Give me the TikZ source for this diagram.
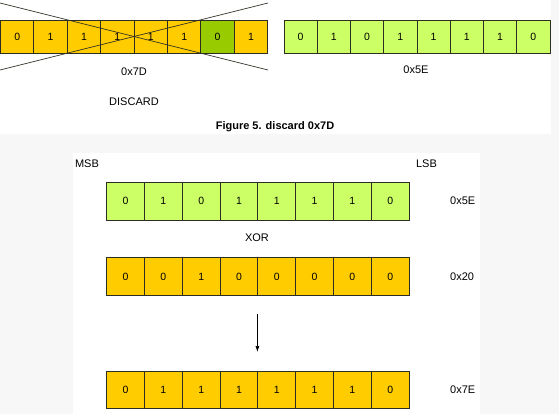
\documentclass[tikz,border=0pt]{standalone}
\usepackage{fontspec}
\setmainfont{Liberation Sans}
\usepackage{xcolor}
\usepackage{tikz}
\usetikzlibrary{math}
\usetikzlibrary{arrows.meta}
\definecolor{bitOrange}{RGB}{255,204,0}
\definecolor{bitLime}{RGB}{204,255,102}
\definecolor{bitGreen}{RGB}{153,204,0}
\definecolor{pageGray}{RGB}{247,247,247}
\definecolor{edgeColor}{RGB}{45,45,35}

\begin{document}
\begin{tikzpicture}[x=1pt,y=-1pt,
	bit/.style={draw=edgeColor,line width=0.9pt,inner sep=0pt,outer sep=0pt,font=\fontsize{10.5}{12}\selectfont},
	smallbit/.style={bit,minimum width=33.4pt,minimum height=33pt},
	bigbit/.style={bit,minimum width=37.8pt,minimum height=37.7pt},
	lbl/.style={inner sep=0pt,font=\fontsize{11}{13}\selectfont}]
\useasboundingbox (0,0) rectangle (559,414);
\fill[pageGray] (0,0) rectangle (559,414);
\fill[white] (0,0) rectangle (551,134);
\fill[white] (73,153) rectangle (480,414);
%
% discarded byte and its replacement
\foreach \b/\c [count=\i from 0] in {0/bitOrange,1/bitOrange,1/bitOrange,1/bitOrange,1/bitOrange,1/bitOrange,0/bitGreen,1/bitOrange} {
	\tikzmath{\xc = 0.5 + 33.4*\i + 16.7;}
	\node[smallbit,fill=\c] (d\i) at (\xc,36.5) {\b};
}
\foreach \b [count=\i from 0] in {0,1,0,1,1,1,1,0} {
	\tikzmath{\xc = 284 + 33.25*\i + 16.6;}
	\node[smallbit,minimum width=33.25pt,fill=bitLime] (r\i) at (\xc,36.5) {\b};
}
\draw[edgeColor,line width=0.7pt] (0,3) -- (268,70);
\draw[edgeColor,line width=0.7pt] (0,70) -- (268,3);
\node[lbl] (dval) at (134,72) {0x7D};
\node[lbl] (dword) at (134,102) {DISCARD};
\node[lbl] (rval) at (416,70) {0x5E};
\node[lbl,font=\fontsize{11}{13}\selectfont\bfseries] (cap) at (275,127) {Figure 5. discard 0x7D};
%
% xor with 0x20
\node[lbl] (msb) at (87,164) {MSB};
\node[lbl] (lsb) at (426.5,164) {LSB};
\foreach \b [count=\i from 0] in {0,1,0,1,1,1,1,0} {
	\tikzmath{\xc = 106.7 + 37.8*\i + 18.9;}
	\node[bigbit,fill=bitLime] (a\i) at (\xc,201.2) {\b};
}
\foreach \b [count=\i from 0] in {0,0,1,0,0,0,0,0} {
	\tikzmath{\xc = 106.7 + 37.8*\i + 18.9;}
	\node[bigbit,fill=bitOrange] (m\i) at (\xc,276.7) {\b};
}
\foreach \b [count=\i from 0] in {0,1,1,1,1,1,1,0} {
	\tikzmath{\xc = 106.7 + 37.8*\i + 18.9;}
	\node[bigbit,fill=bitOrange] (o\i) at (\xc,389.9) {\b};
}
\node[lbl] (xor) at (257,238) {XOR};
\node[lbl,anchor=west] (aval) at (450,201) {0x5E};
\node[lbl,anchor=west] (mval) at (450,277) {0x20};
\node[lbl,anchor=west] (oval) at (450,389.5) {0x7E};
\coordinate (arrS) at (257.4,314);
\coordinate (arrE) at (257.4,352);
\draw[-{Latex[length=6pt,width=4pt]},line width=0.7pt] (arrS) -- (arrE);
%
\end{tikzpicture}
\end{document}
